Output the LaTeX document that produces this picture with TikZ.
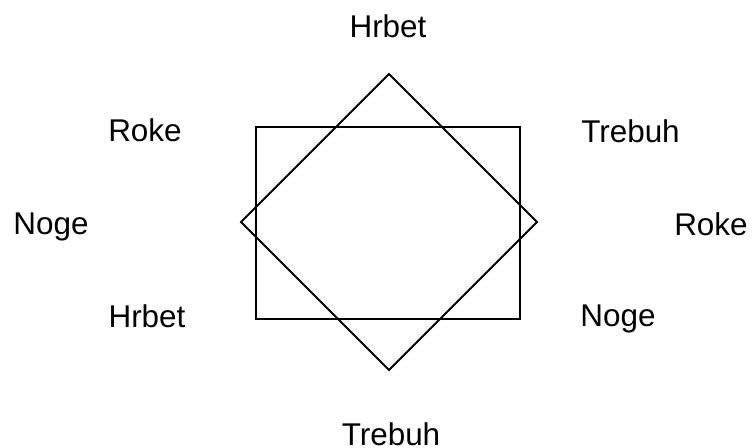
\documentclass[tikz,border=0pt]{standalone}
\usepackage{fontspec}
\setmainfont{Liberation Sans}
\usepackage{tikz}

\begin{document}
\begin{tikzpicture}[x=0.02cm, y=-0.02cm,
  lbl/.style={anchor=base, inner sep=0pt, font=\fontsize{17.9}{21}\selectfont}]
  \useasboundingbox (0,0) rectangle (752,448);
  % Rectangle
  \draw[line width=1.1pt] (256,127) rectangle (520,319);
  % Diamond
  \draw[line width=1.1pt, line join=miter] (389,74) -- (537,222) -- (389,370) -- (241,222) -- cycle;
  % Labels round the picture
  \node[lbl] (hrbetT) at (388,38) {Hrbet};
  \node[lbl] (rokeL) at (145,142) {Roke};
  \node[lbl] (trebuhR) at (630.5,142.5) {Trebuh};
  \node[lbl] (nogeL) at (51,235) {Noge};
  \node[lbl] (rokeR) at (711,236) {Roke};
  \node[lbl] (hrbetL) at (147,327.5) {Hrbet};
  \node[lbl] (nogeR) at (618,327) {Noge};
  \node[lbl] (trebuhB) at (391,446) {Trebuh};
\end{tikzpicture}
\end{document}
